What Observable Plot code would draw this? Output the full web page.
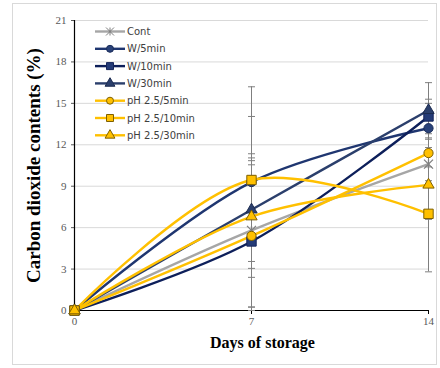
<!DOCTYPE html>
<html>
<head>
<meta charset="utf-8">
<script src="https://cdn.jsdelivr.net/npm/d3@7"></script>
<script src="https://cdn.jsdelivr.net/npm/@observablehq/plot@0.6"></script>
<style>
  html, body { margin: 0; padding: 0; background: #fff; }
  #wrap { position: relative; width: 440px; height: 368px; overflow: hidden; }
  #border { position: absolute; left: 12px; top: 3px; width: 425px; height: 362px; border: 1px solid #d9d9d9; box-sizing: border-box; }
  #legend { position: absolute; left: 0; top: 0; pointer-events: none; }
</style>
</head>
<body>
<div id="wrap"><div id="border"></div></div>
<script>
// ---- data ----
const days = [0, 7, 14];
const seriesNames = ["Cont", "W/5min", "W/10min", "W/30min", "pH 2.5/5min", "pH 2.5/10min", "pH 2.5/30min"];
const cont  = [0, 5.8, 10.6];
const w5    = [0, 9.3, 13.2];
const w10   = [0, 5.0, 14.05];
const w30   = [0, 7.3, 14.5];
const ph5   = [0, 5.4, 11.4];
const ph10  = [0, 9.45, 7.0];
const ph30  = [0, 6.8, 9.1];
const errCont = [0, 5.55, 1.2];
const errW5   = [0, 6.9, 1.8];
const errW10  = [0, 4.75, 1.25];
const errW30  = [0, 3.75, 2.0];
const errPh5  = [0, 5.45, 1.0];
const errPh10 = [0, 4.6, 4.2];
const errPh30 = [0, 3.75, 2.5];
const yTicks = [0, 3, 6, 9, 12, 15, 18, 21];
const xTicks = [0, 7, 14];
const yTitle = "Carbon dioxide contents (%)";
const xTitle = "Days of storage";

// ---- styles ----
const star = {draw(c) { const r = 4.5; c.moveTo(-r, -r); c.lineTo(r, r); c.moveTo(-r, r); c.lineTo(r, -r); c.moveTo(0, -r); c.lineTo(0, r); }};
const cap = {draw(c) { c.moveTo(-3.5, 0); c.lineTo(3.5, 0); }};
const styles = [
  {line: "#a6a6a6", symbol: star, fill: "none", mstroke: "#7f7f7f", r: 4.5},
  {line: "#1f3670", symbol: "circle", fill: "#2a4279", mstroke: "#1a2c5a", r: 4.6},
  {line: "#0d1f5a", symbol: "square", fill: "#243b77", mstroke: "#14245a", r: 5.3},
  {line: "#2b3f6c", symbol: "triangle", fill: "#2b3f6c", mstroke: "#1d2c50", r: 4.2},
  {line: "#ffc000", symbol: "circle", fill: "#ffc000", mstroke: "#7f6000", r: 4.6},
  {line: "#ffc000", symbol: "square", fill: "#ffc000", mstroke: "#7f6000", r: 5.3},
  {line: "#ffc000", symbol: "triangle", fill: "#ffc000", mstroke: "#7f6000", r: 4.2}
];

const values = [cont, w5, w10, w30, ph5, ph10, ph30];
const errs = [errCont, errW5, errW10, errW30, errPh5, errPh10, errPh30];

const rows = [];
seriesNames.forEach((s, i) => days.forEach((d, j) => rows.push({series: s, idx: i, day: d, value: values[i][j], err: errs[i][j]})));
const errRows = rows.filter(r => r.err > 0).map(r => ({...r, lo: Math.max(0, r.value - r.err), hi: r.value + r.err}));

const marks = [
  Plot.gridY(yTicks.filter(t => t > 0), {stroke: "#d9d9d9", strokeOpacity: 1}),
  Plot.axisY({ticks: yTicks, tickSize: 3, tickPadding: 5, label: null, color: "#595959", fontSize: 11}),
  Plot.axisX({ticks: xTicks, tickSize: 4, tickPadding: 3, label: null, color: "#595959", fontSize: 11, stroke: "#000"}),
  Plot.ruleX([0], {stroke: "#000", strokeWidth: 1.2}),
  Plot.ruleY([0], {stroke: "#000", strokeWidth: 1.2}),
  Plot.ruleX(errRows, {x: "day", y1: "lo", y2: "hi", stroke: "#7f7f7f", strokeWidth: 1}),
  Plot.dot(errRows, {x: "day", y: "hi", symbol: cap, stroke: "#7f7f7f", fill: "none", strokeWidth: 1}),
  Plot.dot(errRows, {x: "day", y: "lo", symbol: cap, stroke: "#7f7f7f", fill: "none", strokeWidth: 1})
];
seriesNames.forEach((s, i) => {
  const data = rows.filter(r => r.idx === i);
  const st = styles[i];
  marks.push(Plot.line(data, {x: "day", y: "value", stroke: st.line, strokeWidth: 2.4, curve: "catmull-rom"}));
});
seriesNames.forEach((s, i) => {
  const data = rows.filter(r => r.idx === i);
  const st = styles[i];
  marks.push(Plot.dot(data, {x: "day", y: "value", symbol: st.symbol, r: st.r, fill: st.fill, stroke: st.mstroke, strokeWidth: i === 0 ? 1.3 : 1}));
});
marks.push(Plot.text([yTitle], {frameAnchor: "left", rotate: -90, dx: -41, textAnchor: "middle", text: d => d, fontSize: 19, fontWeight: "bold", fill: "#000"}));
marks.push(Plot.text([xTitle], {frameAnchor: "bottom", dy: 37, dx: 11, textAnchor: "middle", text: d => d, fontSize: 16, fontWeight: "bold", fill: "#000"}));

const chart = Plot.plot({
  width: 440, height: 368,
  marginLeft: 74, marginRight: 12, marginTop: 20, marginBottom: 58,
  x: {domain: [0, 14]},
  y: {domain: [0, 21]},
  style: {fontFamily: "'Liberation Serif', 'Times New Roman', serif", fontSize: "11px", background: "transparent", overflow: "visible"},
  marks
});
const wrap = document.getElementById("wrap");
chart.style.position = "absolute";
chart.style.left = "0px";
chart.style.top = "0px";
wrap.appendChild(chart);

// ---- legend ----
const leg = d3.select(wrap).append("svg").attr("id", "legend").attr("width", 440).attr("height", 368);
const symMap = {circle: d3.symbolCircle, square: d3.symbolSquare, triangle: d3.symbolTriangle};
seriesNames.forEach((s, i) => {
  const st = styles[i];
  const g = leg.append("g").attr("transform", `translate(0, ${31.5 + i * 17.3})`);
  g.append("line").attr("x1", 95).attr("x2", 125).attr("y1", 0).attr("y2", 0).attr("stroke", st.line).attr("stroke-width", 2.4);
  let path;
  if (typeof st.symbol === "string") {
    const sz = st.symbol === "circle" ? Math.PI * 3.5 * 3.5 : st.symbol === "square" ? 49 : 42;
    path = d3.symbol(symMap[st.symbol], sz)();
  } else {
    path = "M-4,-4L4,4M-4,4L4,-4M0,-4L0,4";
  }
  g.append("path").attr("transform", "translate(110,0)").attr("d", path).attr("fill", st.fill).attr("stroke", st.mstroke).attr("stroke-width", 1);
  g.append("text").attr("x", 127).attr("y", 0).attr("dy", "0.35em").attr("font-family", "'DejaVu Sans', sans-serif").attr("font-size", 10).attr("fill", "#404040").text(s);
});
</script>
</body>
</html>
